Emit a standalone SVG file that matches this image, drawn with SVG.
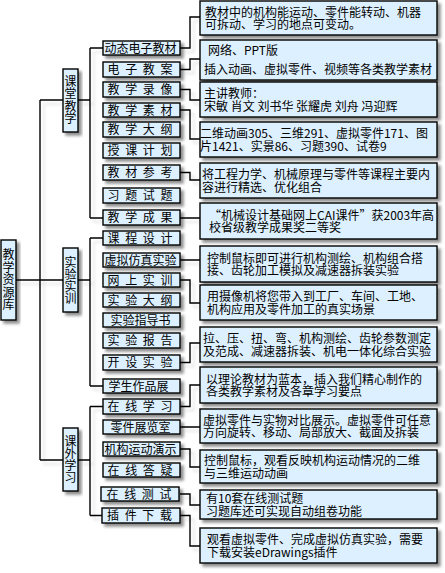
<svg xmlns="http://www.w3.org/2000/svg" width="445" height="573" viewBox="0 0 445 573">
<defs>
<filter id="sh" x="-20%" y="-20%" width="150%" height="180%">
<feGaussianBlur in="SourceAlpha" stdDeviation="1.6"/>
<feOffset dx="3" dy="3" result="b"/>
<feFlood flood-color="#000" flood-opacity="0.45"/>
<feComposite in2="b" operator="in"/>
<feMerge><feMergeNode/><feMergeNode in="SourceGraphic"/></feMerge>
</filter>
<filter id="lsh" x="-10%" y="-10%" width="130%" height="130%">
<feGaussianBlur in="SourceAlpha" stdDeviation="1.5"/>
<feOffset dx="4" dy="4" result="b"/>
<feFlood flood-color="#000" flood-opacity="0.12"/>
<feComposite in2="b" operator="in"/>
<feMerge><feMergeNode/><feMergeNode in="SourceGraphic"/></feMerge>
</filter>
</defs>
<style>
.bx{fill:#ddf0ff;stroke:#000;stroke-width:1.4;filter:url(#sh)}
.t{font-family:"Noto Sans CJK SC","Noto Sans",sans-serif;font-size:12px;fill:#000}
.m{text-anchor:middle}
.v{writing-mode:vertical-rl;text-anchor:middle;glyph-orientation-vertical:0}
.c{fill:none;stroke:#000;stroke-width:1.4}
</style>
<rect width="445" height="573" fill="#fff"/>
<g id="connectors" filter="url(#lsh)">
<path class="c" d="M16,280H63M40,100V460M40,100H63M40,460H63"/>
<path class="c" d="M78,100H90M90,48V218M90,48H103M90,218H103"/>
<path class="c" d="M78,280H90M90,238V386M90,238H103M90,386H103"/>
<path class="c" d="M78,460H90M90,406.5V515.5M90,406.5H103M90,515.5H103"/>
<path class="c" d="M180,48H190V17H200M180,69.5H190V59H200M180,89.5H190V100H200M180,110H190V139H200M180,172.5H190V180H200M180,218H200M180,260H200M180,280H190V303H200M180,362.5H190V343H200M180,406.5H190V385H200M180,427H200M180,449H190V467H200M180,494H190V505H200M180,515.5H190V546H200"/>
</g>
<g id="root"><rect class="bx" x="1" y="240" width="15" height="80"/>
<text class="t v" x="8.5" y="280" letter-spacing="0.5">教学资源库</text></g>
<g id="cat1"><rect class="bx" x="63" y="69" width="15" height="63"/>
<text class="t v" x="70.5" y="100" letter-spacing="0.5">课堂教学</text></g>
<g id="cat2"><rect class="bx" x="63" y="248" width="15" height="64"/>
<text class="t v" x="70.5" y="280">实验实训</text></g>
<g id="cat3"><rect class="bx" x="63" y="428" width="15" height="63"/>
<text class="t v" x="70.5" y="459.5">课外学习</text></g>
<g id="i1"><rect class="bx" x="103" y="41" width="77" height="14"/><text class="t m" x="140.5" y="52.5">动态电子教材</text></g>
<g id="i2"><rect class="bx" x="103" y="62" width="77" height="15"/><text class="t m" x="140" y="74" textLength="65" lengthAdjust="spacing">电 子 教 案</text></g>
<g id="i3"><rect class="bx" x="103" y="82" width="77" height="15"/><text class="t m" x="140" y="94" textLength="65" lengthAdjust="spacing">教 学 录 像</text></g>
<g id="i4"><rect class="bx" x="103" y="103" width="77" height="14"/><text class="t m" x="140" y="114.5" textLength="65" lengthAdjust="spacing">教 学 素 材</text></g>
<g id="i5"><rect class="bx" x="103" y="122" width="77" height="15"/><text class="t m" x="140" y="134" textLength="65" lengthAdjust="spacing">教 学 大 纲</text></g>
<g id="i6"><rect class="bx" x="103" y="143" width="77" height="15"/><text class="t m" x="140" y="155" textLength="65" lengthAdjust="spacing">授 课 计 划</text></g>
<g id="i7"><rect class="bx" x="103" y="165" width="77" height="15"/><text class="t m" x="140" y="177" textLength="65" lengthAdjust="spacing">教 材 参 考</text></g>
<g id="i8"><rect class="bx" x="103" y="188" width="77" height="15"/><text class="t m" x="140" y="200" textLength="65" lengthAdjust="spacing">习 题 试 题</text></g>
<g id="i9"><rect class="bx" x="103" y="210" width="77" height="15"/><text class="t m" x="140" y="222" textLength="65" lengthAdjust="spacing">教 学 成 果</text></g>
<g id="i10"><rect class="bx" x="103" y="231" width="77" height="14"/><text class="t m" x="140" y="242.5" textLength="65" lengthAdjust="spacing">课 程 设 计</text></g>
<g id="i11"><rect class="bx" x="103" y="253" width="77" height="14"/><text class="t m" x="140.5" y="264.5">虚拟仿真实验</text></g>
<g id="i12"><rect class="bx" x="103" y="273" width="77" height="14"/><text class="t m" x="140" y="284.5" textLength="65" lengthAdjust="spacing">网 上 实 训</text></g>
<g id="i13"><rect class="bx" x="103" y="293" width="77" height="14"/><text class="t m" x="140" y="304.5" textLength="65" lengthAdjust="spacing">实 验 大 纲</text></g>
<g id="i14"><rect class="bx" x="103" y="313" width="77" height="14"/><text class="t m" x="140.5" y="324.5">实验指导书</text></g>
<g id="i15"><rect class="bx" x="103" y="333" width="77" height="15"/><text class="t m" x="140" y="345" textLength="65" lengthAdjust="spacing">实 验 报 告</text></g>
<g id="i16"><rect class="bx" x="103" y="355" width="77" height="15"/><text class="t m" x="140" y="367" textLength="65" lengthAdjust="spacing">开 设 实 验</text></g>
<g id="i17"><rect class="bx" x="103" y="379" width="77" height="14"/><text class="t m" x="138.5" y="390.5">学生作品展</text></g>
<g id="i18"><rect class="bx" x="103" y="399" width="77" height="15"/><text class="t m" x="140" y="411" textLength="65" lengthAdjust="spacing">在 线 学 习</text></g>
<g id="i19"><rect class="bx" x="103" y="420" width="77" height="14"/><text class="t m" x="140.5" y="431.5">零件展览室</text></g>
<g id="i20"><rect class="bx" x="103" y="442" width="77" height="14"/><text class="t m" x="140.5" y="453.5">机构运动演示</text></g>
<g id="i21"><rect class="bx" x="103" y="463" width="77" height="14"/><text class="t m" x="140" y="474.5" textLength="65" lengthAdjust="spacing">在 线 答 疑</text></g>
<g id="i22"><rect class="bx" x="101" y="487" width="78" height="14"/><text class="t m" x="139" y="498.5" textLength="65" lengthAdjust="spacing">在 线 测 试</text></g>
<g id="i23"><rect class="bx" x="102" y="508" width="78" height="15"/><text class="t m" x="139.5" y="520" textLength="65" lengthAdjust="spacing">插 件 下 载</text></g>
<g id="d1"><rect class="bx" x="200" y="1" width="237" height="34"/><text class="t"><tspan x="205" y="16.5">教材中的机构能运动、零件能转动、机器</tspan><tspan x="205" y="29">可拆动、学习的地点可变动。</tspan></text></g>
<g id="d2"><rect class="bx" x="200" y="40" width="237" height="40"/><text class="t"><tspan x="208" y="54.5">网络、PPT版</tspan><tspan x="204" y="74">插入动画、虚拟零件、视频等各类教学素材</tspan></text></g>
<g id="d3"><rect class="bx" x="200" y="82" width="237" height="35"/><text class="t"><tspan x="204" y="98">主讲教师：</tspan><tspan x="204" y="110.5">宋敏 肖文 刘书华 张耀虎 刘舟 冯迎辉</tspan></text></g>
<g id="d4"><rect class="bx" x="200" y="122" width="237" height="35"/><text class="t"><tspan x="200" y="138">二维动画305、三维291、虚拟零件171、图</tspan><tspan x="200" y="150.5">片1421、实景86、习题390、试卷9</tspan></text></g>
<g id="d5"><rect class="bx" x="200" y="163" width="237" height="35"/><text class="t"><tspan x="202" y="179">将工程力学、机械原理与零件等课程主要内</tspan><tspan x="202" y="191.5">容进行精选、优化组合</tspan></text></g>
<g id="d6"><rect class="bx" x="200" y="203" width="237" height="36"/><text class="t"><tspan x="209" y="219.5">“机械设计基础网上CAI课件”获2003年高</tspan><tspan x="209" y="232">校省级教学成果奖二等奖</tspan></text></g>
<g id="d7"><rect class="bx" x="200" y="246" width="237" height="36"/><text class="t"><tspan x="207" y="262.5">控制鼠标即可进行机构测绘、机构组合搭</tspan><tspan x="207" y="275">接、齿轮加工模拟及减速器拆装实验</tspan></text></g>
<g id="d8"><rect class="bx" x="200" y="285" width="237" height="35"/><text class="t"><tspan x="207" y="301">用摄像机将您带入到工厂、车间、工地、</tspan><tspan x="207" y="313.5">机构应用及零件加工的真实场景</tspan></text></g>
<g id="d9"><rect class="bx" x="200" y="327" width="237" height="35"/><text class="t"><tspan x="203" y="343">拉、压、扭、弯、机构测绘、齿轮参数测定</tspan><tspan x="203" y="355.5">及范成、减速器拆装、机电一体化综合实验</tspan></text></g>
<g id="d10"><rect class="bx" x="200" y="367" width="237" height="36"/><text class="t"><tspan x="206" y="383.5">以理论教材为蓝本，插入我们精心制作的</tspan><tspan x="206" y="396">各类教学素材及各章学习要点</tspan></text></g>
<g id="d11"><rect class="bx" x="200" y="409" width="237" height="34"/><text class="t"><tspan x="203" y="424.5">虚拟零件与实物对比展示。虚拟零件可任意</tspan><tspan x="203" y="437">方向旋转、移动、局部放大、截面及拆装</tspan></text></g>
<g id="d12"><rect class="bx" x="200" y="450" width="237" height="33"/><text class="t"><tspan x="204" y="465">控制鼠标，观看反映机构运动情况的二维</tspan><tspan x="204" y="477.5">与三维运动动画</tspan></text></g>
<g id="d13"><rect class="bx" x="200" y="490" width="237" height="29"/><text class="t"><tspan x="206" y="503">有10套在线测试题</tspan><tspan x="206" y="515.5">习题库还可实现自动组卷功能</tspan></text></g>
<g id="d14"><rect class="bx" x="200" y="528" width="237" height="35"/><text class="t"><tspan x="207" y="544">观看虚拟零件、完成虚拟仿真实验，需要</tspan><tspan x="207" y="556.5">下载安装eDrawings插件</tspan></text></g>
</svg>
